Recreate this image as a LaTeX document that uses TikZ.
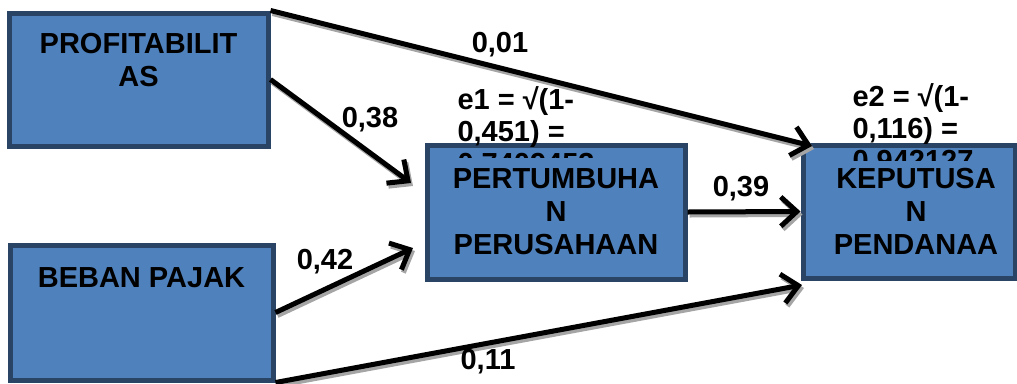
\documentclass[tikz,border=0pt]{standalone}
\usepackage{fontspec}
\setmainfont{Liberation Sans}
\usetikzlibrary{arrows.meta}
\definecolor{boxblue}{RGB}{79,129,189}
\definecolor{boxline}{RGB}{42,68,102}
\definecolor{shadowgray}{RGB}{165,165,165}
\tikzset{every picture/.style={line width=0.75pt}}
\tikzset{
  varbox/.style={draw=boxline, fill=boxblue, line width=3.75pt, inner sep=0pt},
  boxtext/.style={anchor=north, inner sep=0pt, align=center, font=\bfseries\fontsize{21.75}{24.75}\selectfont},
  coef/.style={inner sep=0pt, font=\bfseries\fontsize{21.75}{24.75}\selectfont},
  errtext/.style={anchor=north west, inner sep=0pt, align=left, font=\bfseries\fontsize{21.75}{24}\selectfont},
  path/.style={draw=black, line width=3.75pt, -{Straight Barb[length=12pt,width=22pt]},
    preaction={draw=shadowgray, line width=3.75pt, -{Straight Barb[length=12pt,width=22pt]}, transform canvas={shift={(2,-3)}}}}
}

\begin{document}
\begin{tikzpicture}[x=0.75pt,y=0.75pt,yscale=-1,xscale=1]
\useasboundingbox (0,0) rectangle (1017,383);

%Shape: Rectangle
\node [varbox, minimum width=194.25pt, minimum height=99.75pt] (prof) at (138.5,79.5) {};
%Shape: Rectangle
\node [varbox, minimum width=197.25pt, minimum height=101.25pt] (beban) at (141.5,312.5) {};
%Shape: Rectangle
\node [varbox, minimum width=193.5pt, minimum height=100.5pt] (pert) at (556,212) {};
%Shape: Rectangle
\node [varbox, minimum width=159pt, minimum height=99.75pt] (kep) at (909,211.5) {};

% Text Node
\begin{scope}
\clip (440,70) rectangle (640,157);
\node [errtext] (e1) at (457,86) {e1 = √(1-\\0,451) =\\0,7409453};
\end{scope}
% Text Node
\begin{scope}
\clip (835,70) rectangle (1017,160);
\node [errtext] (e2) at (852,83) {e2 = √(1-\\0,116) =\\0,942127};
\end{scope}

% Text Node
\node [boxtext] (proftext) at (138.5,33) {PROFITABILIT\\AS};
% Text Node
\node [boxtext] (bebantext) at (141.5,267) {BEBAN PAJAK};
% Text Node
\node [boxtext] (perttext) at (556,168) {PERTUMBUHA\\N\\PERUSAHAAN};
% Text Node
\node [boxtext] (keptext) at (916,168) {KEPUTUSA\\N\\PENDANAA};

%Arrow ends
\coordinate (tipA) at (812,146);
\coordinate (tipB) at (411,183);
\coordinate (tipC) at (413,248);
\coordinate (tipD) at (802,285);

%Straight Lines
\draw [path] (prof.north east) -- (tipA);
%Straight Lines
\draw [path] (prof.east) -- (tipB);
%Straight Lines
\draw [path] (beban.east) -- (tipC);
%Straight Lines
\draw [path] (pert.east) -- (kep.west);
%Straight Lines
\draw [path] (beban.south east) -- (tipD);

% Text Node
\node [coef] (c1) at (500,45) {0,01};
% Text Node
\node [coef] (c2) at (370,120) {0,38};
% Text Node
\node [coef] (c3) at (325,262) {0,42};
% Text Node
\node [coef] (c4) at (741,189) {0,39};
% Text Node
\node [coef] (c5) at (488,362) {0,11};

\end{tikzpicture}
\end{document}
